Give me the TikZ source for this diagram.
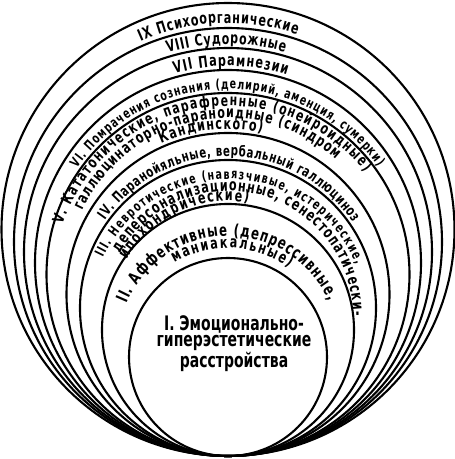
\documentclass[tikz,border=0pt]{standalone}
\usepackage{fontspec}
\setmainfont{DejaVu Sans}[FakeStretch=0.7]
\usetikzlibrary{decorations.text}

\tikzset{
  ring/.style={line width=2.1pt},
}
% text on an arc: top of circle, radius, start and end angle, size, text
\newcommand\ringtext[6]{%
  \path[decorate, decoration={text along path, text align=fit to path,
      text={|\fontsize{#5}{#5}\selectfont\bfseries|#6}}]
    ({228+#2*cos(#3)},{459-#1-#2+#2*sin(#3)})
    arc[start angle=#3, end angle=#4, radius=#2];}

\begin{document}
\begin{tikzpicture}[x=1pt, y=1pt]
  \useasboundingbox (0,0) rectangle (455,459);
  \foreach \t in {3,28,48,70,93,133,160,204,258}
    \draw[ring] (228,{3+(456-\t)/2}) circle[radius={(456-\t)/2}];

  \ringtext{23}{216.5}{113.8}{71.4}{16}{IX Психоорганические}
  \ringtext{44}{206}{107}{74}{15.8}{VIII Судорожные}
  \ringtext{66}{195}{105.9}{72.4}{16}{VII Парамнезии}
  \ringtext{89}{183.5}{145.4}{35.1}{13.6}{VI. Помрачения сознания (делирий, аменция, сумерки)}
  \ringtext{106}{175}{161.1}{38.5}{15.6}{V. Кататонические, парафренные (онейроидные)}
  \ringtext{118}{161}{155}{48}{15.8}{галлюцинаторно-параноидные (синдром}
  \ringtext{129}{163.5}{114.1}{77.9}{16}{Кандинского)}
  \ringtext{156}{150}{145.2}{33.7}{14.6}{IV. Паранойяльные, вербальный галлюциноз}
  \ringtext{179}{138.5}{154.5}{22.5}{13.6}{III. Невротические (навязчивые, истерические,}
  \ringtext{191}{125}{150}{0}{16}{деперсонализационные, сенестопатически-}
  \ringtext{201}{117}{150}{80}{16}{ипохондрические)}
  \ringtext{236}{110}{157.5}{24.1}{16.8}{II. Аффективные (депрессивные,}
  \ringtext{248}{104}{121}{54}{16}{маниакальные)}

  \node[align=center, font=\bfseries\fontsize{20}{16.5}\selectfont] (emo) at (234,115.5)
    {I. Эмоционально-\\гиперэстетические\\расстройства};
\end{tikzpicture}
\end{document}
